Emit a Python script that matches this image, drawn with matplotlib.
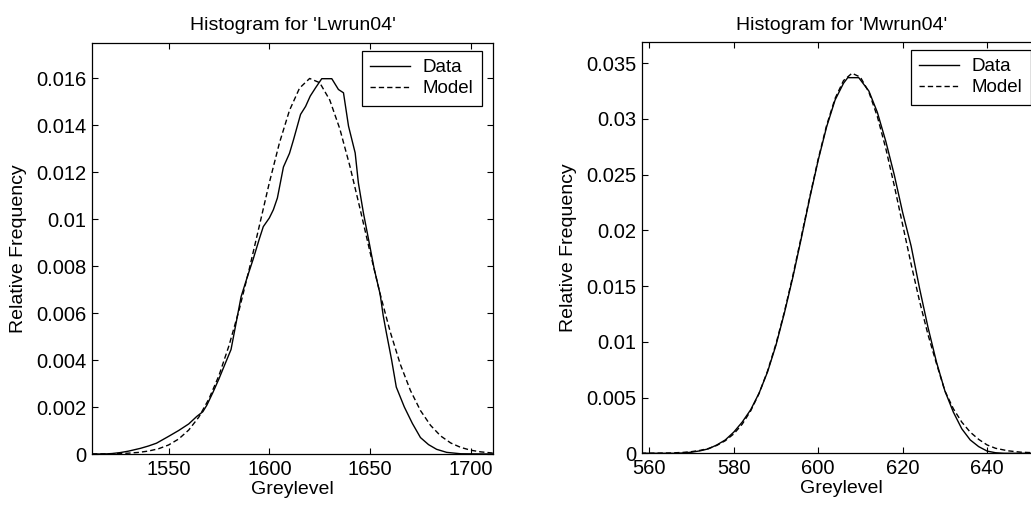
import matplotlib.pyplot as plt

plt.rcParams['font.family'] = ['Liberation Sans', 'DejaVu Sans']

# Lwrun04: measured histogram and fitted model
lw_data_x = [1512, 1518, 1522, 1526, 1530, 1536, 1540, 1544, 1550, 1555, 1560, 1564, 1567,
             1569, 1572, 1575, 1577, 1581, 1584, 1586, 1589, 1592, 1595, 1597, 1600, 1602,
             1604, 1607, 1610, 1612, 1615.5, 1618, 1620.3, 1623, 1626, 1631, 1634.3, 1636.8,
             1639.3, 1642.6, 1644.2, 1646.7, 1650, 1652, 1655, 1656.5, 1658, 1660.7, 1663,
             1667, 1671, 1675, 1679, 1683, 1688, 1695, 1711]
lw_data_y = [0, 0, 0.00002, 0.00006, 0.00012, 0.00024, 0.00034, 0.00046, 0.00075, 0.00100,
             0.00128, 0.00160, 0.00180, 0.00208, 0.00262, 0.00320, 0.00362, 0.00445, 0.00580,
             0.00670, 0.00752, 0.00830, 0.00915, 0.00968, 0.01005, 0.01040, 0.01090, 0.01222,
             0.01280, 0.01338, 0.01446, 0.01480, 0.01524, 0.01560, 0.01598, 0.01598, 0.01552,
             0.01538, 0.01396, 0.01282, 0.01154, 0.01026, 0.00880, 0.00790, 0.00680, 0.00590,
             0.00520, 0.00400, 0.00285, 0.00200, 0.00130, 0.00070, 0.00040, 0.00020, 0.00007,
             0.00001, 0]
lw_model_x = [1512, 1520, 1525, 1530, 1535, 1540, 1545, 1550, 1555, 1560, 1565, 1570, 1575,
              1580, 1585, 1590, 1595, 1600, 1605, 1610, 1615, 1620, 1625, 1630, 1635, 1640,
              1645, 1650, 1655, 1660, 1665, 1670, 1675, 1680, 1685, 1690, 1695, 1700, 1705,
              1711]
lw_model_y = [0, 0.000009, 0.000018, 0.000035, 0.000067, 0.000125, 0.000223, 0.000384,
              0.000638, 0.00102, 0.00157, 0.00234, 0.00334, 0.00462, 0.00613, 0.00786,
              0.00970, 0.01155, 0.01324, 0.01463, 0.01558, 0.01599, 0.01581, 0.01507, 0.01384,
              0.01225, 0.01045, 0.00859, 0.00681, 0.00520, 0.00382, 0.00271, 0.00185, 0.00122,
              0.00077, 0.00047, 0.00028, 0.00016, 0.00009, 0.00004]

# Mwrun04: measured histogram and fitted model
mw_data_x = [558, 566, 568, 570, 572, 574, 576, 578, 580, 582, 584, 586, 588, 590, 592, 594,
             596, 598, 600, 602, 604, 606, 607, 609.6, 612, 614, 616, 618, 620, 622, 624, 626,
             628, 630, 632, 634, 636, 638, 640, 642, 644, 653]
mw_data_y = [0, 0, 0.00003, 0.0001, 0.00022, 0.0004, 0.00075, 0.0012, 0.0019, 0.0028, 0.0039,
             0.0054, 0.0073, 0.0097, 0.0126, 0.0158, 0.0193, 0.0229, 0.0263, 0.0293, 0.0317,
             0.0332, 0.0337, 0.0337, 0.0325, 0.0306, 0.0280, 0.0250, 0.0216, 0.0186, 0.0148,
             0.0113, 0.0082, 0.0056, 0.0037, 0.0022, 0.0012, 0.0006, 0.0002, 0.00005, 0, 0]
mw_model_x = [558, 565, 568, 570, 572, 574, 576, 578, 580, 582, 584, 586, 588, 590, 592, 594,
              596, 598, 600, 602, 604, 606, 608, 610, 612, 614, 616, 618, 620, 622, 624, 626,
              628, 630, 632, 634, 636, 638, 640, 642, 645, 648, 653]
mw_model_y = [0, 0.00003, 0.00008, 0.00015, 0.00026, 0.00043, 0.00071, 0.00113, 0.00174,
              0.00261, 0.0038, 0.00537, 0.00738, 0.00982, 0.0127, 0.01595, 0.01944, 0.0230,
              0.0264, 0.02943, 0.03184, 0.03344, 0.0341, 0.03374, 0.03241, 0.03022, 0.02736,
              0.02404, 0.0205, 0.01698, 0.01365, 0.01065, 0.00806, 0.00560, 0.00400, 0.00280,
              0.00190, 0.00125, 0.00075, 0.00045, 0.00022, 0.0001, 0.00002]

lw_xticks = [1550, 1600, 1650, 1700]
lw_yticks = [0, 0.002, 0.004, 0.006, 0.008, 0.01, 0.012, 0.014, 0.016]
mw_xticks = [560, 580, 600, 620, 640]
mw_yticks = [0, 0.005, 0.01, 0.015, 0.02, 0.025, 0.03, 0.035]

FS = 14.5
W, H = 1031, 508

fig = plt.figure(figsize=(W / 100, H / 100), dpi=100)
ax1 = fig.add_axes([92 / W, (H - 454) / H, 401 / W, 411 / H])
ax2 = fig.add_axes([641.7 / W, (H - 453.3) / H, 400.3 / W, 411.3 / H])


def draw_panel(ax, dx, dy, mx, my, title, xlim, ylim, xticks, yticks):
    ax.plot(dx, dy, color='black', lw=1.0, label='Data')
    ax.plot(mx, my, color='black', lw=1.0, dashes=(3.8, 2.2), label='Model')
    ax.set_xlim(*xlim)
    ax.set_ylim(*ylim)
    ax.set_xticks(xticks)
    ax.set_yticks(yticks)
    ax.set_yticklabels(['%g' % t for t in yticks])
    ax.tick_params(direction='in', top=True, right=True, length=4, width=0.8,
                   labelsize=FS, pad=4)
    for s in ax.spines.values():
        s.set_linewidth(0.9)
    ax.set_title(title, fontsize=14, pad=9)
    ax.set_xlabel('Greylevel', fontsize=14, labelpad=1.5)
    ax.set_ylabel('Relative Frequency', fontsize=14)
    ax.yaxis.set_label_coords(-0.162, 0.5)
    leg = ax.legend(loc='upper right', bbox_to_anchor=(0.9726, 0.9813), borderaxespad=0,
                    fontsize=13.5, handlelength=2.1, handletextpad=0.7, borderpad=0.45,
                    labelspacing=0.2, fancybox=False, framealpha=1)
    leg.get_frame().set_edgecolor('black')
    leg.get_frame().set_linewidth(0.9)


draw_panel(ax1, lw_data_x, lw_data_y, lw_model_x, lw_model_y, "Histogram for 'Lwrun04'",
           (1512, 1711), (0, 0.0175), lw_xticks, lw_yticks)
draw_panel(ax2, mw_data_x, mw_data_y, mw_model_x, mw_model_y, "Histogram for 'Mwrun04'",
           (558.2, 653), (0, 0.0369), mw_xticks, mw_yticks)

fig.savefig('out.png', dpi=100)
plt.close(fig)
